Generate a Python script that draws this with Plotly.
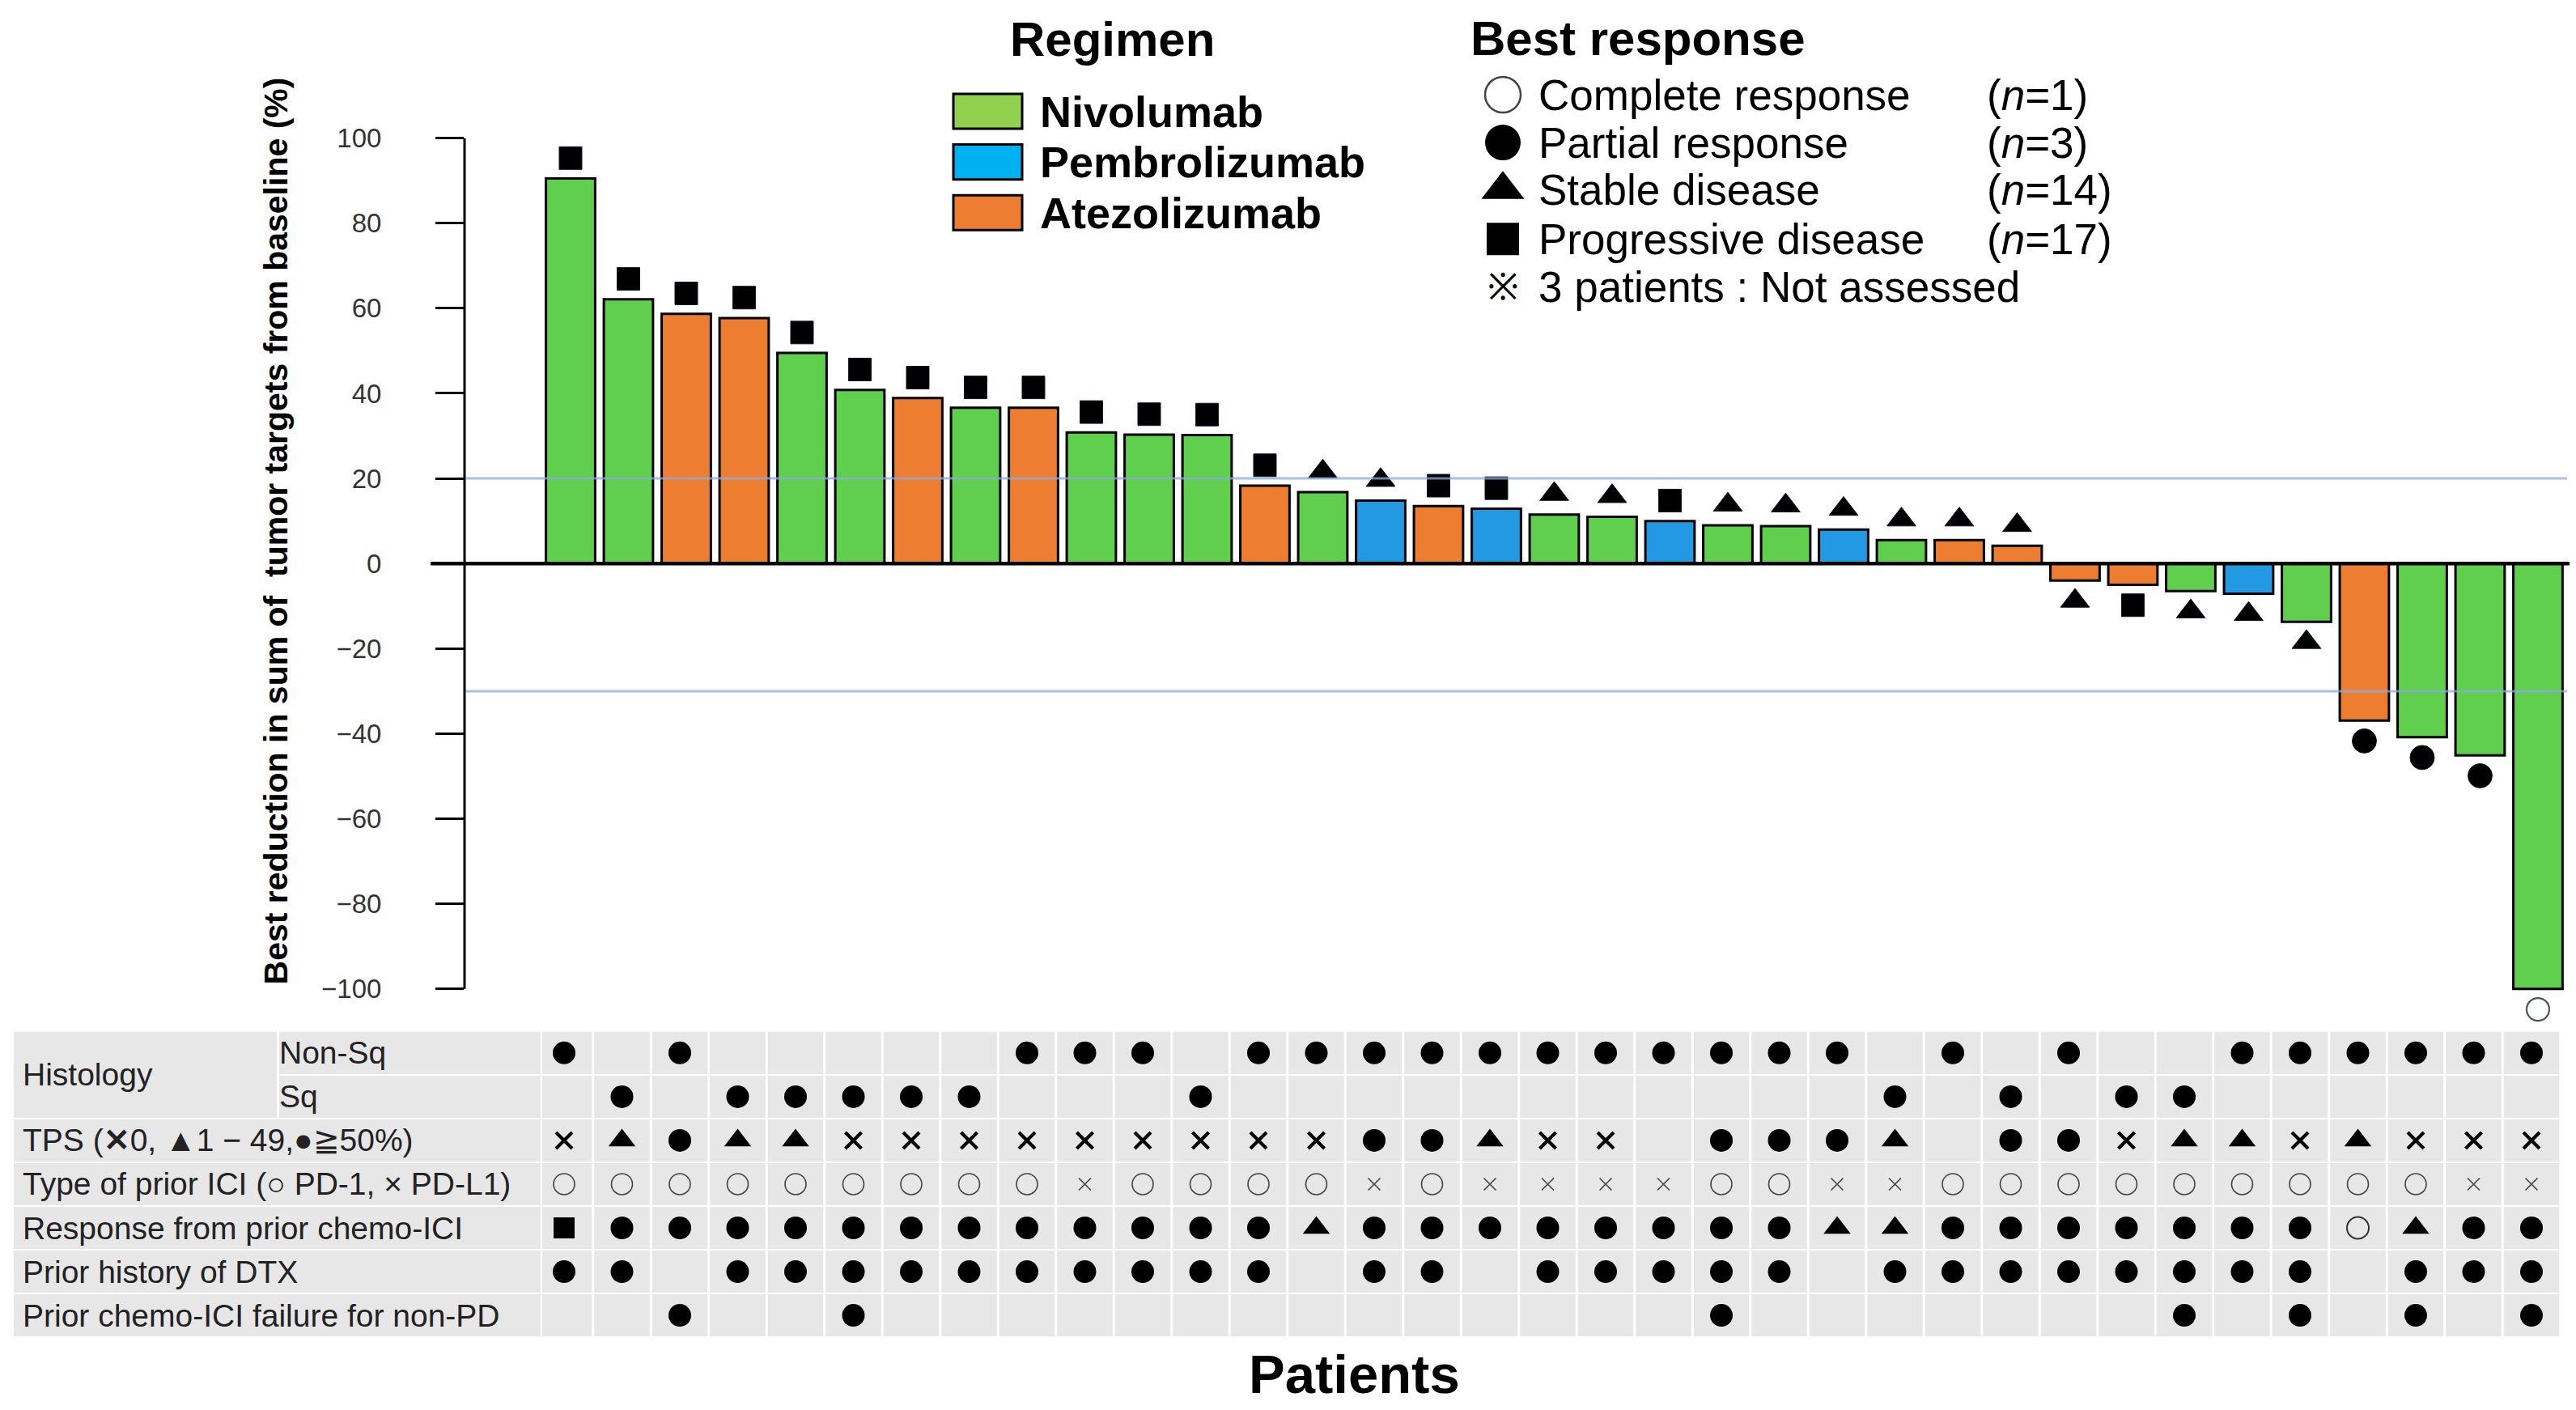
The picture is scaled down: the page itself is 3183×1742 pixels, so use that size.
import plotly.graph_objects as go

W, H = 3183, 1742
FONT = "Liberation Sans, Arial, sans-serif"

# ---------------- data ----------------
patients = [f"P{i}" for i in range(1, 36)]
change = [90.5, 62.1, 58.7, 57.7, 49.5, 40.8, 38.9, 36.6, 36.6, 30.8, 30.3, 30.2,
          18.3, 16.8, 14.8, 13.5, 12.9, 11.5, 11.0, 10.0, 9.0, 8.8, 8.0, 5.5, 5.5,
          4.2, -4.0, -5.0, -6.5, -7.1, -13.7, -36.9, -40.8, -45.1, -100.0]
regimen = ["Nivolumab", "Nivolumab", "Atezolizumab", "Atezolizumab", "Nivolumab",
           "Nivolumab", "Atezolizumab", "Nivolumab", "Atezolizumab", "Nivolumab",
           "Nivolumab", "Nivolumab", "Atezolizumab", "Nivolumab", "Pembrolizumab",
           "Atezolizumab", "Pembrolizumab", "Nivolumab", "Nivolumab", "Pembrolizumab",
           "Nivolumab", "Nivolumab", "Pembrolizumab", "Nivolumab", "Atezolizumab",
           "Atezolizumab", "Atezolizumab", "Atezolizumab", "Nivolumab", "Pembrolizumab",
           "Nivolumab", "Atezolizumab", "Nivolumab", "Nivolumab", "Nivolumab"]
best_response = ["PD"] * 13 + ["SD", "SD", "PD", "PD", "SD", "SD", "PD", "SD", "SD",
                               "SD", "SD", "SD", "SD", "SD", "PD", "SD", "SD", "SD",
                               "PR", "PR", "PR", "CR"]
histology = ["Non-Sq", "Sq", "Non-Sq", "Sq", "Sq", "Sq", "Sq", "Sq", "Non-Sq", "Non-Sq",
             "Non-Sq", "Sq", "Non-Sq", "Non-Sq", "Non-Sq", "Non-Sq", "Non-Sq", "Non-Sq",
             "Non-Sq", "Non-Sq", "Non-Sq", "Non-Sq", "Non-Sq", "Sq", "Non-Sq", "Sq",
             "Non-Sq", "Sq", "Sq", "Non-Sq", "Non-Sq", "Non-Sq", "Non-Sq", "Non-Sq", "Non-Sq"]
tps = ["0", "1-49", ">=50", "1-49", "1-49", "0", "0", "0", "0", "0", "0", "0", "0", "0",
       ">=50", ">=50", "1-49", "0", "0", "NA", ">=50", ">=50", ">=50", "1-49", "NA",
       ">=50", ">=50", "0", "1-49", "1-49", "0", "1-49", "0", "0", "0"]
prior_ici = ["PD-1"] * 9 + ["PD-L1"] + ["PD-1"] * 4 + \
            ["PD-L1", "PD-1", "PD-L1", "PD-L1", "PD-L1", "PD-L1", "PD-1", "PD-1", "PD-L1", "PD-L1"] + \
            ["PD-1"] * 9 + ["PD-L1", "PD-L1"]
prior_response = ["PD"] + ["PR"] * 12 + ["SD"] + ["PR"] * 8 + ["SD", "SD"] + ["PR"] * 7 + \
                 ["CR", "SD", "PR", "PR"]
prior_dtx = ["Yes", "Yes", "No", "Yes", "Yes", "Yes", "Yes", "Yes", "Yes", "Yes", "Yes", "Yes",
             "Yes", "No", "Yes", "Yes", "No", "Yes", "Yes", "Yes", "Yes", "Yes", "No", "Yes",
             "Yes", "Yes", "Yes", "Yes", "Yes", "Yes", "Yes", "No", "Yes", "Yes", "Yes"]
nonpd_failure = ["No", "No", "Yes", "No", "No", "Yes", "No", "No", "No", "No", "No", "No",
                 "No", "No", "No", "No", "No", "No", "No", "No", "Yes", "No", "No", "No",
                 "No", "No", "No", "No", "Yes", "No", "Yes", "No", "Yes", "No", "Yes"]
y_ticks = [100, 80, 60, 40, 20, 0, -20, -40, -60, -80, -100]
ref_lines = [20, -30]
regimen_names = ["Nivolumab", "Pembrolizumab", "Atezolizumab"]
response_names = ["Complete response", "Partial response", "Stable disease", "Progressive disease"]
response_codes = ["CR", "PR", "SD", "PD"]
response_n = [best_response.count(c) for c in response_codes]

for arr in (change, regimen, best_response, histology, tps, prior_ici, prior_response,
            prior_dtx, nonpd_failure):
    assert len(arr) == 35

# ---------------- geometry helpers (pixel layout, page offset compensated) ----------------
SY = 1 / 0.989


def X(r):
    return r - 8


def Y(r):
    return (r - 25) * SY


def px(x):
    return x / W


def py(y):
    return 1 - y / H


bar_colors = {"Nivolumab": "#60CF4D", "Pembrolizumab": "#2399E3", "Atezolizumab": "#ED7D31"}
swatch_colors = {"Nivolumab": "#92D050", "Pembrolizumab": "#00B0F0", "Atezolizumab": "#ED7D31"}


def resp_marker(code):
    if code == "PD":
        return dict(symbol="square", size=28, color="black", line=dict(color="#0B1A33", width=1))
    if code == "SD":
        return dict(symbol="triangle-up", size=31, color="black", line=dict(color="#0B1A33", width=1))
    if code == "PR":
        return dict(symbol="circle", size=30, color="black", line=dict(color="#0B1A33", width=1))
    return dict(symbol="circle-open", size=28, color="#44546A", line=dict(color="#44546A", width=2.2))


fig = go.Figure()

# bars
fig.add_trace(go.Bar(x=patients, y=change, width=0.85,
                     marker=dict(color=[bar_colors[r] for r in regimen],
                                 line=dict(color="black", width=3)),
                     hoverinfo="skip", showlegend=False, xaxis="x", yaxis="y"))

# best response markers
OFF = 4.8
for code in response_codes:
    xs = [p for p, r in zip(patients, best_response) if r == code]
    ys = [v + OFF if v > 0 else v - OFF for v, r in zip(change, best_response) if r == code]
    fig.add_trace(go.Scatter(x=xs, y=ys, mode="markers", marker=resp_marker(code),
                             cliponaxis=False, hoverinfo="skip", showlegend=False,
                             xaxis="x", yaxis="y"))

shapes = []
annotations = []


def label(x, y, text, size=39, bold=False, anchor="left", color="#222", angle=0):
    annotations.append(dict(xref="paper", yref="paper", x=px(x), y=py(y), text=text,
                            showarrow=False, xanchor=anchor, yanchor="middle", textangle=angle,
                            font=dict(family=FONT, size=size, color=color,
                                      weight="bold" if bold else "normal")))


# ---------------- table ----------------
GRAY = "#E7E7E7"
row_top = [Y(1273 + 54 * k) for k in range(7)]
CELL_H = 52 * SY
row_center = [t + CELL_H / 2 for t in row_top]
COL0 = X(697)
ins = 1.5 / 71.5

for k in range(7):
    for i in range(35):
        left = -0.378 if i == 0 else i - 0.5 + ins
        shapes.append(dict(type="rect", xref="x2", yref="y2", x0=left, x1=i + 0.5 - ins,
                           y0=row_top[k], y1=row_top[k] + CELL_H, fillcolor=GRAY,
                           line=dict(width=0), layer="below"))


def pxrect(x0, x1, y0, y1):
    shapes.append(dict(type="rect", xref="x3", yref="y3", x0=x0, x1=x1, y0=y0, y1=y1,
                       fillcolor=GRAY, line=dict(width=0), layer="below"))


pxrect(X(17), X(342), row_top[0], row_top[1] + CELL_H)
pxrect(X(345), X(668), row_top[0], row_top[0] + CELL_H)
pxrect(X(345), X(668), row_top[1], row_top[1] + CELL_H)
for k in range(2, 7):
    pxrect(X(17), X(668), row_top[k], row_top[k] + CELL_H)

label(X(26), (row_top[0] + row_top[1] + CELL_H) / 2, "Histology")
label(X(343), row_center[0], "Non-Sq")
label(X(343), row_center[1], "Sq")
label(X(26), row_center[2], "TPS (<b>✕</b>0, ▲1 − 49,●≧50%)")
label(X(26), row_center[3], "Type of prior ICI (○ PD-1, × PD-L1)")
label(X(26), row_center[4], "Response from prior chemo-ICI")
label(X(26), row_center[5], "Prior history of DTX")
label(X(26), row_center[6], "Prior chemo-ICI failure for non-PD")

DOT = dict(symbol="circle", size=28, color="black")
TRI = dict(symbol="triangle-up", size=29, color="black")
BOLDX = dict(symbol="x-thin", size=20, color="black", line=dict(color="black", width=4.2))
THINX = dict(symbol="x-thin", size=15, color="#444", line=dict(color="#444", width=1.6))
OPENC = dict(symbol="circle-open", size=26, color="#444", line=dict(color="#444", width=1.6))
SQ = dict(symbol="square", size=26, color="black")
OPENC2 = dict(symbol="circle-open", size=27, color="#333", line=dict(color="#333", width=2))


def table_row(k, values, mapping):
    for val, mk in mapping.items():
        xs = [p for p, v in zip(patients, values) if v == val]
        if not xs:
            continue
        fig.add_trace(go.Scatter(x=xs, y=[row_center[k]] * len(xs), mode="markers", marker=mk,
                                 cliponaxis=False, hoverinfo="skip", showlegend=False,
                                 xaxis="x2", yaxis="y2"))


table_row(0, histology, {"Non-Sq": DOT})
table_row(1, histology, {"Sq": DOT})
table_row(2, tps, {"0": BOLDX, "1-49": TRI, ">=50": DOT})
table_row(3, prior_ici, {"PD-1": OPENC, "PD-L1": THINX})
table_row(4, prior_response, {"PD": SQ, "PR": DOT, "SD": TRI, "CR": OPENC2})
table_row(5, prior_dtx, {"Yes": DOT})
table_row(6, nonpd_failure, {"Yes": DOT})

label(X(1673), min(Y(1695), H - 50), "Patients", size=67, bold=True, anchor="center", color="black")

# ---------------- plot decorations ----------------
PXU = (1220 - 169.5) / 200.0
Y_TOP, Y_BOT = Y(169.5), Y(1220 + 10 * PXU)   # axis range [-110, 100]
shapes.append(dict(type="line", xref="paper", yref="y", x0=px(X(574)), x1=px(X(574)),
                   y0=-100, y1=100, line=dict(color="black", width=3), layer="above"))
shapes.append(dict(type="line", xref="paper", yref="y", x0=px(X(532)), x1=px(X(3175)),
                   y0=0, y1=0, line=dict(color="black", width=4.5), layer="above"))
for v in ref_lines:
    shapes.append(dict(type="line", xref="paper", yref="y", x0=px(X(576)), x1=px(X(3172)),
                       y0=v, y1=v, line=dict(color="rgba(143,170,220,0.75)", width=3),
                       layer="above"))

label(X(341), Y(655), "Best reduction in sum of  tumor targets from baseline (%)", size=41,
      bold=True, anchor="center", color="black", angle=-90)

# ---------------- legends ----------------
label(X(1374), 23, "Regimen", size=60, bold=True, anchor="center", color="black")
for j, name in enumerate(regimen_names):
    yc = Y(136.5 + 62.5 * j)
    shapes.append(dict(type="rect", xref="x3", yref="y3", x0=X(1178), x1=X(1263),
                       y0=yc - 21.5 * SY, y1=yc + 21.5 * SY, fillcolor=swatch_colors[name],
                       line=dict(color="black", width=3)))
    label(X(1283), yc, name, size=54, bold=True, color="black")

label(X(1815), 22, "Best response", size=60, bold=True, color="black")
item_y = [116, 175, 233, 294, 353]
for j, (code, name, n) in enumerate(zip(response_codes, response_names, response_n)):
    yc = Y(item_y[j])
    if code == "CR":
        mk = dict(symbol="circle-open", size=44, color="#444", line=dict(color="#444", width=2.5))
    elif code == "PR":
        mk = dict(symbol="circle", size=44, color="black")
    elif code == "SD":
        mk = dict(symbol="triangle-up", size=46, color="black")
    else:
        mk = dict(symbol="square", size=40, color="black")
    fig.add_trace(go.Scatter(x=[X(1857)], y=[yc], mode="markers", marker=mk, cliponaxis=False,
                             hoverinfo="skip", showlegend=False, xaxis="x3", yaxis="y3"))
    label(X(1899), yc, name, size=53, color="black")
    label(X(2453), yc, f"(<i>n</i>={n})", size=53, color="black")
label(X(1857), Y(item_y[4]), "※", size=46, anchor="center", color="black")
label(X(1899), Y(item_y[4]), "3 patients : Not assessed", size=53, color="black")

fig.update_layout(
    width=W, height=H, margin=dict(l=0, r=0, t=0, b=0),
    paper_bgcolor="white", plot_bgcolor="rgba(0,0,0,0)", showlegend=False,
    shapes=shapes, annotations=annotations,
    xaxis=dict(domain=[px(X(574)), px(X(3171))], type="category", categoryorder="array",
               categoryarray=patients, range=[-1.832, 34.49], visible=False, anchor="y"),
    yaxis=dict(domain=[py(Y_BOT), py(Y_TOP)], range=[-110, 100], tickmode="array",
               tickvals=y_ticks, ticks="outside", ticklen=35, tickwidth=3, tickcolor="black",
               showline=False, showgrid=False, zeroline=False,
               tickfont=dict(family=FONT, size=33, color="#333"), ticklabelstandoff=60,
               anchor="x"),
    xaxis2=dict(domain=[0, 1], type="category", categoryorder="array", categoryarray=patients,
                range=[-COL0 / 71.5, (W - COL0) / 71.5], visible=False, anchor="y2"),
    yaxis2=dict(domain=[0, 1], range=[H, 0], visible=False, anchor="x2"),
    xaxis3=dict(domain=[0, 1], range=[0, W], visible=False, anchor="y3"),
    yaxis3=dict(domain=[0, 1], range=[H, 0], visible=False, anchor="x3"),
)

fig.write_html("out.html")
